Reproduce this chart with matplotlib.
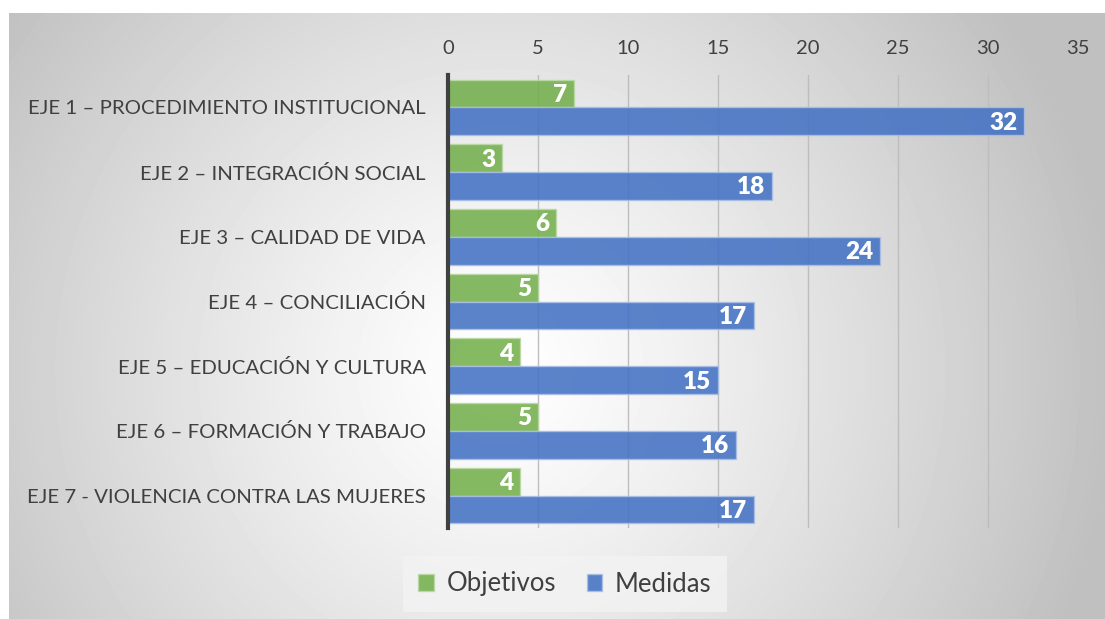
import numpy as np
import matplotlib
matplotlib.use("Agg")
import matplotlib.pyplot as plt
from matplotlib.patches import Patch

# Datos del gráfico
categorias = [
    "EJE 1 – PROCEDIMIENTO INSTITUCIONAL",
    "EJE 2 – INTEGRACIÓN SOCIAL",
    "EJE 3 – CALIDAD DE VIDA",
    "EJE 4 – CONCILIACIÓN",
    "EJE 5 – EDUCACIÓN Y CULTURA",
    "EJE 6 – FORMACIÓN Y TRABAJO",
    "EJE 7 - VIOLENCIA CONTRA LAS MUJERES",
]
objetivos = [7, 3, 6, 5, 4, 5, 4]
medidas = [32, 18, 24, 17, 15, 16, 17]
ticks_x = [0, 5, 10, 15, 20, 25, 30, 35]

plt.rcParams["font.family"] = ["Lato", "DejaVu Sans"]

W, H = 1105, 619
fig = plt.figure(figsize=(W / 100, H / 100), dpi=100)
fig.patch.set_facecolor("white")

# Fondo con degradado radial
bg = fig.add_axes([9 / W, 0, 1 - 9 / W, (H - 13) / H])
gx, gy = np.meshgrid(np.arange(9, W), np.arange(13, H))
dist = np.sqrt((gx - 500) ** 2 + (gy - 370) ** 2) / 620
dist = np.clip(dist, 0, 1)
shade = 1 - 0.25 * dist ** 1.2
bg.imshow(shade, cmap="gray", vmin=0, vmax=1, aspect="auto",
          extent=[0, 1, 0, 1], origin="upper")
bg.set_xlim(0, 1)
bg.set_ylim(0, 1)
bg.axis("off")

# Ejes principales
ax = fig.add_axes([448 / W, (H - 528) / H, 630 / W, 453 / H])
ax.set_facecolor("none")

y = np.arange(len(categorias))
h = 0.43
verde = "#70AD47"
azul = "#4472C4"

b1 = ax.barh(y - h / 2, objetivos, height=h, color=verde, alpha=0.85,
             edgecolor="#b9d9a4", linewidth=1, zorder=3)
b2 = ax.barh(y + h / 2, medidas, height=h, color=azul, alpha=0.88,
             edgecolor="#a9bfe6", linewidth=1, zorder=3)

for bars in (b1, b2):
    for rect in bars:
        val = rect.get_width()
        ax.annotate(f"{val:g}", (val, rect.get_y() + rect.get_height() / 2),
                    xytext=(-5, -1), textcoords="offset points",
                    ha="right", va="center", color="white",
                    fontsize=17.5, fontweight="heavy", zorder=4)

ax.set_xlim(0, 35)
ax.set_ylim(len(categorias) - 0.5, -0.5)
ax.set_xticks(ticks_x)
ax.xaxis.tick_top()
ax.tick_params(axis="x", length=0, pad=13, labelsize=14.5, labelcolor="#404040")
ax.set_yticks(y)
ax.set_yticklabels(categorias)
ax.tick_params(axis="y", length=0, pad=16, labelsize=14.7, labelcolor="#404040")
ax.grid(axis="x", color="#bdbdbd", linewidth=1, zorder=0)
ax.set_axisbelow(True)
for s in ("top", "right", "bottom"):
    ax.spines[s].set_visible(False)
ax.spines["left"].set_color("#404040")
ax.spines["left"].set_linewidth(3)
ax.spines["left"].set_zorder(5)

# Leyenda
handles = [
    Patch(facecolor=verde, alpha=0.85, edgecolor="#b9d9a4", label="Objetivos"),
    Patch(facecolor=azul, alpha=0.88, edgecolor="#a9bfe6", label="Medidas"),
]
leg = fig.legend(handles=handles, loc="center", ncol=2,
                 bbox_to_anchor=(565 / W, 1 - 584 / H), fontsize=18.5,
                 frameon=True, fancybox=False, handlelength=0.6,
                 handleheight=0.6, handletextpad=0.5, columnspacing=1.2,
                 borderpad=0.6, borderaxespad=0, labelcolor="#404040")
leg.get_frame().set_facecolor("#f3f3f3")
leg.get_frame().set_edgecolor("none")
leg.get_frame().set_alpha(0.8)

fig.savefig("out.png", dpi=100)
